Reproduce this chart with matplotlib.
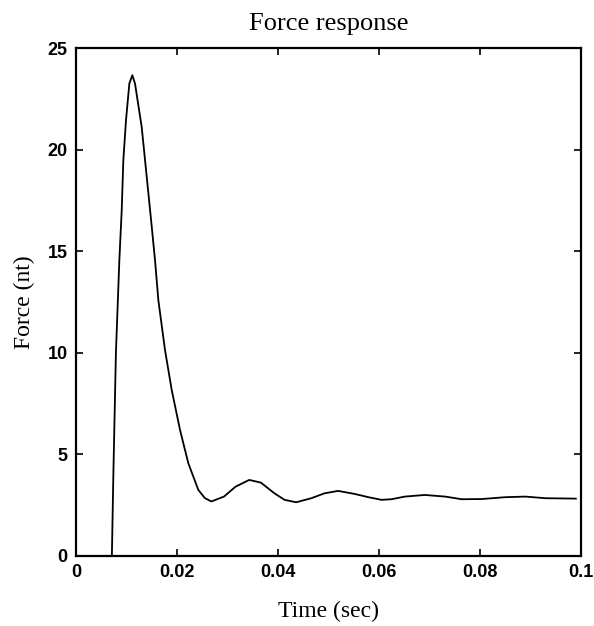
import matplotlib
matplotlib.use("Agg")
import matplotlib.pyplot as plt

time_s = [0.0, 0.0071, 0.0074, 0.0079, 0.00858, 0.00905, 0.00937, 0.0099, 0.01056,
          0.01115, 0.01168, 0.0130, 0.0140, 0.0150, 0.01564, 0.0163, 0.01762,
          0.01895, 0.0206, 0.02224, 0.02422, 0.0255, 0.0268, 0.0293,
          0.0316, 0.0343, 0.0366, 0.0393, 0.0413, 0.0436, 0.0466, 0.0492, 0.0519,
          0.0552, 0.0579, 0.0605, 0.0625, 0.0651, 0.0691, 0.0731, 0.0764, 0.0804,
          0.0850, 0.0890, 0.0930, 0.0990]
force_nt = [0.0, 0.0, 4.1, 10.0, 14.57, 17.03, 19.49, 21.46, 23.26,
            23.67, 23.26, 21.13, 18.67, 16.2, 14.57, 12.6, 10.14,
            8.17, 6.2, 4.56, 3.25, 2.85, 2.68, 2.92,
            3.41, 3.74, 3.61, 3.08, 2.76, 2.64, 2.84, 3.08, 3.2,
            3.05, 2.89, 2.76, 2.79, 2.92, 3.0, 2.92, 2.79, 2.8,
            2.89, 2.92, 2.84, 2.82]

x_ticks = [0, 0.02, 0.04, 0.06, 0.08, 0.1]
x_tick_labels = ["0", "0.02", "0.04", "0.06", "0.08", "0.1"]
y_ticks = [0, 5, 10, 15, 20, 25]
y_tick_labels = ["0", "5", "10", "15", "20", "25"]

fig = plt.figure(figsize=(5.94, 6.26), dpi=100)
ax = fig.add_axes([0.128, 0.112, 0.850, 0.811])

ax.plot(time_s, force_nt, color="black", linewidth=1.3)
ax.set_xlim(0, 0.1)
ax.set_ylim(0, 25)
ax.set_xticks(x_ticks)
ax.set_xticklabels(x_tick_labels)
ax.set_yticks(y_ticks)
ax.set_yticklabels(y_tick_labels)

ax.tick_params(direction="in", length=5, width=1.2, top=True, right=True,
               pad=6, labelsize=13)
for lab in ax.get_xticklabels() + ax.get_yticklabels():
    lab.set_fontfamily("Liberation Sans")
    lab.set_fontweight("bold")
for s in ax.spines.values():
    s.set_linewidth(1.6)

serif = "Liberation Serif"
ax.set_title("Force response", fontfamily=serif, fontsize=19, pad=13)
ax.set_xlabel("Time (sec)", fontfamily=serif, fontsize=17, labelpad=14)
ax.set_ylabel("Force (nt)", fontfamily=serif, fontsize=17, labelpad=9)

fig.savefig("out.png", dpi=100)
